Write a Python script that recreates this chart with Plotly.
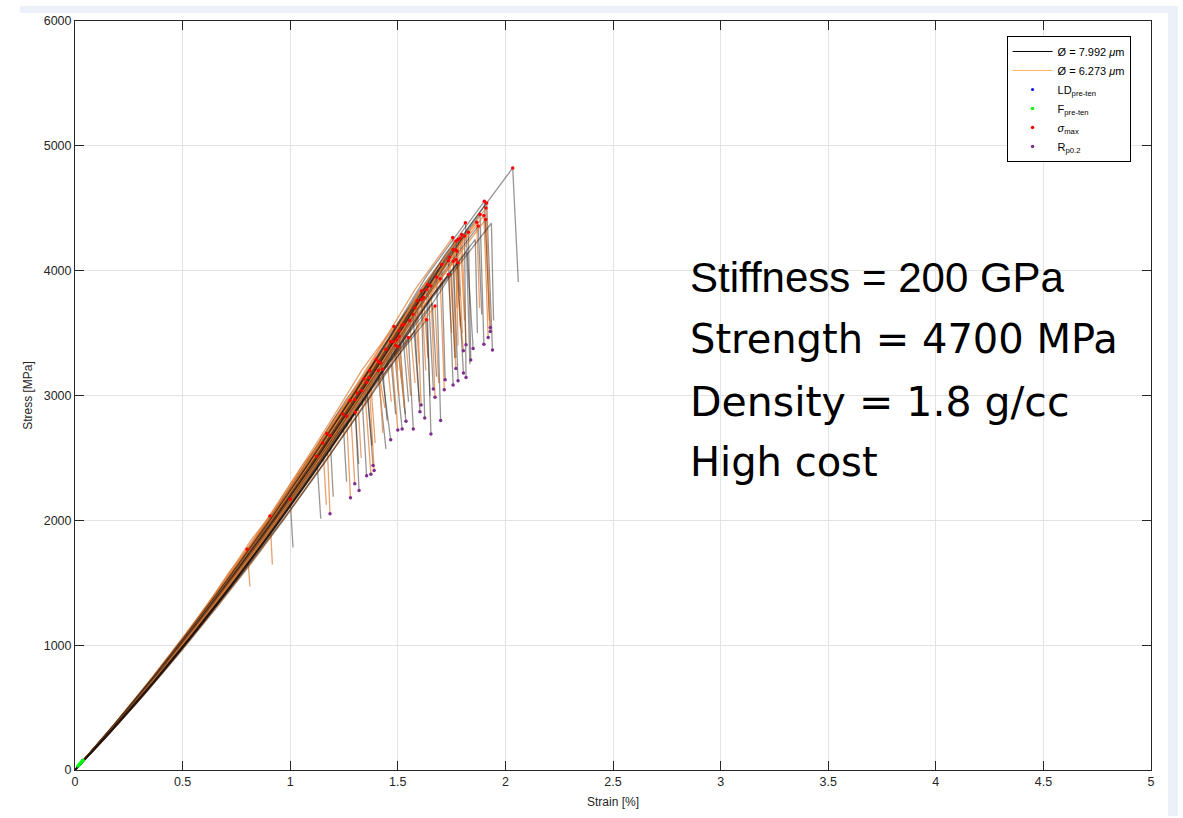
import plotly.graph_objects as go

# ---------------- data ----------------
# per-fiber failure point (sigma_max), end of the load drop, group (k = 7.992 um, o = 6.273 um)
EPS_MAX = [0.800, 0.906, 1.000, 1.123, 1.151, 1.170, 1.185, 1.244, 1.262, 1.278,
           1.300, 1.303, 1.312, 1.332, 1.343, 1.355, 1.366, 1.370, 1.400, 1.410,
           1.420, 1.410, 1.430, 1.445, 1.467, 1.480, 1.490, 1.500, 1.495, 1.506,
           1.482, 1.507, 1.520, 1.530, 1.549, 1.555, 1.570, 1.580, 1.590, 1.610,
           1.610, 1.620, 1.634, 1.634, 1.640, 1.653, 1.673, 1.680, 1.697, 1.704,
           1.735, 1.735, 1.740, 1.757, 1.757, 1.770, 1.770, 1.775, 1.780, 1.755,
           1.770, 1.780, 1.790, 1.797, 1.810, 1.814, 1.828, 1.867, 1.874, 1.882,
           1.900, 1.908, 1.902, 1.913, 1.910, 2.034,
           1.935, 1.860, 1.820, 1.750, 1.660, 1.580, 1.470, 1.360]
SIG_MAX = [1768, 2035, 2168, 2514, 2620, 2695, 2679, 2852, 2834, 2959,
           2967, 2866, 3020, 3038, 3132, 3105, 3145, 3198, 3290, 3270,
           3260, 3200, 3210, 3371, 3430, 3430, 3400, 3390, 3446, 3473,
           3553, 3518, 3563, 3571, 3465, 3600, 3650, 3700, 3760, 3770,
           3837, 3785, 3850, 3606, 3890, 3877, 3717, 3950, 3935, 4050,
           3970, 4080, 4107, 4075, 4170, 4090, 4165, 4157, 4064, 4266,
           4237, 4250, 4262, 4290, 4277, 4383, 4308, 4388, 4357, 4450,
           4442, 4410, 4556, 4543, 4503, 4823,
           4380, 4250, 4150, 3980, 3740, 3520, 3250, 2990]
EPS_END = [0.813, 0.917, 1.013, 1.142, 1.168, 1.185, 1.200, 1.262, 1.280, 1.300,
           1.320, 1.318, 1.330, 1.355, 1.375, 1.385, 1.390, 1.395, 1.445, 1.430,
           1.467, 1.440, 1.450, 1.470, 1.500, 1.520, 1.505, 1.538, 1.520, 1.535,
           1.500, 1.530, 1.550, 1.560, 1.572, 1.580, 1.603, 1.600, 1.608, 1.625,
           1.630, 1.640, 1.654, 1.650, 1.665, 1.673, 1.690, 1.699, 1.716, 1.720,
           1.750, 1.757, 1.770, 1.770, 1.780, 1.775, 1.780, 1.790, 1.790, 1.805,
           1.805, 1.800, 1.810, 1.817, 1.817, 1.850, 1.839, 1.880, 1.890, 1.900,
           1.920, 1.925, 1.930, 1.940, 1.930, 2.060,
           1.945, 1.870, 1.835, 1.765, 1.680, 1.600, 1.490, 1.380]
SIG_END = [1470, 1646, 1782, 2013, 2125, 2053, 2189, 2309, 2181, 2293,
           2239, 2450, 2500, 2357, 2370, 2440, 2400, 2620, 2572, 2700,
           2645, 2900, 2800, 2950, 2724, 2732, 3000, 2794, 3100, 2850,
           3200, 2900, 2950, 3000, 2732, 3100, 2870, 3250, 2924, 2820,
           3200, 3300, 2692, 3000, 3052, 2986, 3100, 2800, 3046, 3126,
           3500, 3084, 3217, 3300, 3118, 3700, 3400, 3550, 3800, 3358,
           3180, 3500, 3600, 3406, 3145, 3377, 3284, 3700, 3650, 3411,
           3465, 3600, 3513, 3364, 3545, 3909,
           3600, 3500, 3250, 3300, 3150, 2950, 2850, 2600]
GROUP = ["o", "o", "k", "k", "o", "o", "k", "k", "o", "o",
         "k", "k", "o", "k", "o", "k", "o", "o", "k", "o",
         "k", "o", "k", "o", "o", "k", "o", "k", "o", "k",
         "o", "o", "k", "o", "k", "o", "k", "o", "o", "k",
         "o", "o", "k", "k", "k", "o", "o", "k", "o", "k",
         "o", "k", "o", "o", "k", "o", "o", "o", "k", "o",
         "k", "o", "o", "o", "k", "k", "k", "o", "k", "k",
         "o", "o", "k", "k", "o", "k",
         "k", "k", "k", "k", "k", "k", "k", "k"]
HAS_RP = [0, 0, 0, 0, 0, 1, 0, 0, 1, 1,
          1, 0, 0, 1, 1, 1, 1, 0, 0, 0,
          1, 0, 0, 0, 1, 1, 0, 1, 0, 0,
          0, 0, 0, 0, 1, 0, 1, 0, 1, 1,
          0, 0, 1, 0, 1, 1, 0, 1, 1, 1,
          0, 1, 1, 0, 1, 0, 0, 0, 0, 1,
          1, 0, 0, 1, 1, 1, 1, 0, 0, 1,
          1, 0, 1, 1, 1, 0,
          0, 0, 0, 0, 0, 0, 0, 0]
HAS_MAX_DOT = [1] * 76 + [0] * 8

# normalised loading-curve shape (fraction of failure strain -> fraction of failure stress)
SHAPE_X = [0, 0.1, 0.2, 0.3, 0.4, 0.5, 0.6, 0.7, 0.8, 0.9, 1.0]
SHAPE_Y = [0, 0.083, 0.170, 0.262, 0.358, 0.458, 0.563, 0.672, 0.785, 0.902, 1.0]

# pre-tension points near the origin
PRE_STRAIN = [0.014, 0.018, 0.022, 0.026, 0.030, 0.034, 0.037]
PRE_STRESS = [32, 40, 48, 56, 64, 72, 78]

TEXT_LINES = ["Stiffness = 200 GPa", "Strength = 4700 MPa", "Density = 1.8 g/cc", "High cost"]

X_TICKS = [0, 0.5, 1, 1.5, 2, 2.5, 3, 3.5, 4, 4.5, 5]
X_TICKTEXT = ["0", "0.5", "1", "1.5", "2", "2.5", "3", "3.5", "4", "4.5", "5"]
Y_TICKS = [0, 1000, 2000, 3000, 4000, 5000, 6000]

# ---------------- styles ----------------
BLACK = "rgba(30,20,15,0.45)"
ORANGE = "rgba(225,130,60,0.75)"
FONT = "Liberation Sans, Arial, sans-serif"
AX = "#262626"

fig = go.Figure()

names = {"k": "Ø = 7.992 <i>μ</i>m", "o": "Ø = 6.273 <i>μ</i>m"}
legend_color = {"k": "black", "o": "rgb(255,178,90)"}
for grp in ["k", "o"]:
    # legend-only entry with the pure colour
    fig.add_trace(go.Scatter(x=[None], y=[None], mode="lines",
                             line=dict(color=legend_color[grp], width=1),
                             name=names[grp], legendrank=1 if grp == "k" else 2))

# fibres drawn in test order, so both diameters interleave
for i in range(len(EPS_MAX)):
    grp = GROUP[i]
    xs = [EPS_MAX[i] * s for s in SHAPE_X] + [EPS_END[i]]
    ys = [SIG_MAX[i] * s for s in SHAPE_Y] + [SIG_END[i]]
    fig.add_trace(go.Scatter(x=xs, y=ys, mode="lines",
                             line=dict(color=BLACK if grp == "k" else ORANGE, width=1.3),
                             showlegend=False, hoverinfo="skip"))

fig.add_trace(go.Scatter(x=PRE_STRAIN, y=PRE_STRESS, mode="markers",
                         marker=dict(color="blue", size=3), name="LD<sub>pre-ten</sub>",
                         legendrank=3))
fig.add_trace(go.Scatter(x=PRE_STRAIN, y=PRE_STRESS, mode="markers",
                         marker=dict(color="#00ff00", size=3.5), name="F<sub>pre-ten</sub>",
                         legendrank=4))
mx_x = [EPS_MAX[i] for i in range(len(EPS_MAX)) if HAS_MAX_DOT[i]]
mx_y = [SIG_MAX[i] for i in range(len(SIG_MAX)) if HAS_MAX_DOT[i]]
fig.add_trace(go.Scatter(x=mx_x, y=mx_y, mode="markers",
                         marker=dict(color="red", size=3.5), name="<i>σ</i><sub>max</sub>",
                         legendrank=5))
rp_x = [EPS_END[i] for i in range(len(EPS_END)) if HAS_RP[i]]
rp_y = [SIG_END[i] for i in range(len(SIG_END)) if HAS_RP[i]]
fig.add_trace(go.Scatter(x=rp_x, y=rp_y, mode="markers",
                         marker=dict(color="#7E2F8E", size=3.5), name="R<sub>p0.2</sub>",
                         legendrank=6))

# text block
ys_text = [0.658, 0.575, 0.491, 0.4115]
sizes = [42, 40, 41, 40]
for j, t in enumerate(TEXT_LINES):
    fig.add_annotation(x=0.5697, y=ys_text[j], xref="paper", yref="paper",
                       text=t, showarrow=False, xanchor="left", yanchor="middle",
                       font=dict(family="Liberation Sans, Arial" if j == 0 else "DejaVu Sans, Verdana",
                                 size=sizes[j], color="black"))

# light window-frame bands
BAND = "#ECF1F9"
fig.add_shape(type="rect", xref="paper", yref="paper", x0=-0.0511, x1=1.0251,
              y0=1.0107, y1=1.0200, fillcolor=BAND, line=dict(width=0), layer="below")
fig.add_shape(type="rect", xref="paper", yref="paper", x0=1.0158, x1=1.0251,
              y0=-0.0613, y1=1.0200, fillcolor=BAND, line=dict(width=0), layer="below")

axis_common = dict(showline=True, linecolor=AX, linewidth=1, mirror="ticks",
                   ticks="inside", ticklen=9, tickcolor=AX, tickwidth=1,
                   showgrid=True, gridcolor="#e3e3e3", gridwidth=1, zeroline=False,
                   tickfont=dict(family=FONT, size=12.5, color=AX),
                   title_font=dict(family=FONT, size=12, color=AX))
fig.update_xaxes(range=[0, 5], tickvals=X_TICKS, ticktext=X_TICKTEXT,
                 title_text="Strain [%]", title_standoff=9, **axis_common)
fig.update_yaxes(range=[0, 6000], tickvals=Y_TICKS,
                 title_text="Stress [MPa]", title_standoff=8, **axis_common)

fig.update_layout(
    width=1183, height=818, autosize=False,
    margin=dict(l=75, r=32, t=21, b=46),
    paper_bgcolor="white", plot_bgcolor="white",
    showlegend=True,
    legend=dict(x=0.981, y=0.980, xanchor="right", yanchor="top",
                bgcolor="white", bordercolor="black", borderwidth=1,
                font=dict(family=FONT, size=11, color="black"),
                tracegroupgap=0, itemwidth=40),
)

fig.write_html("out.html")
